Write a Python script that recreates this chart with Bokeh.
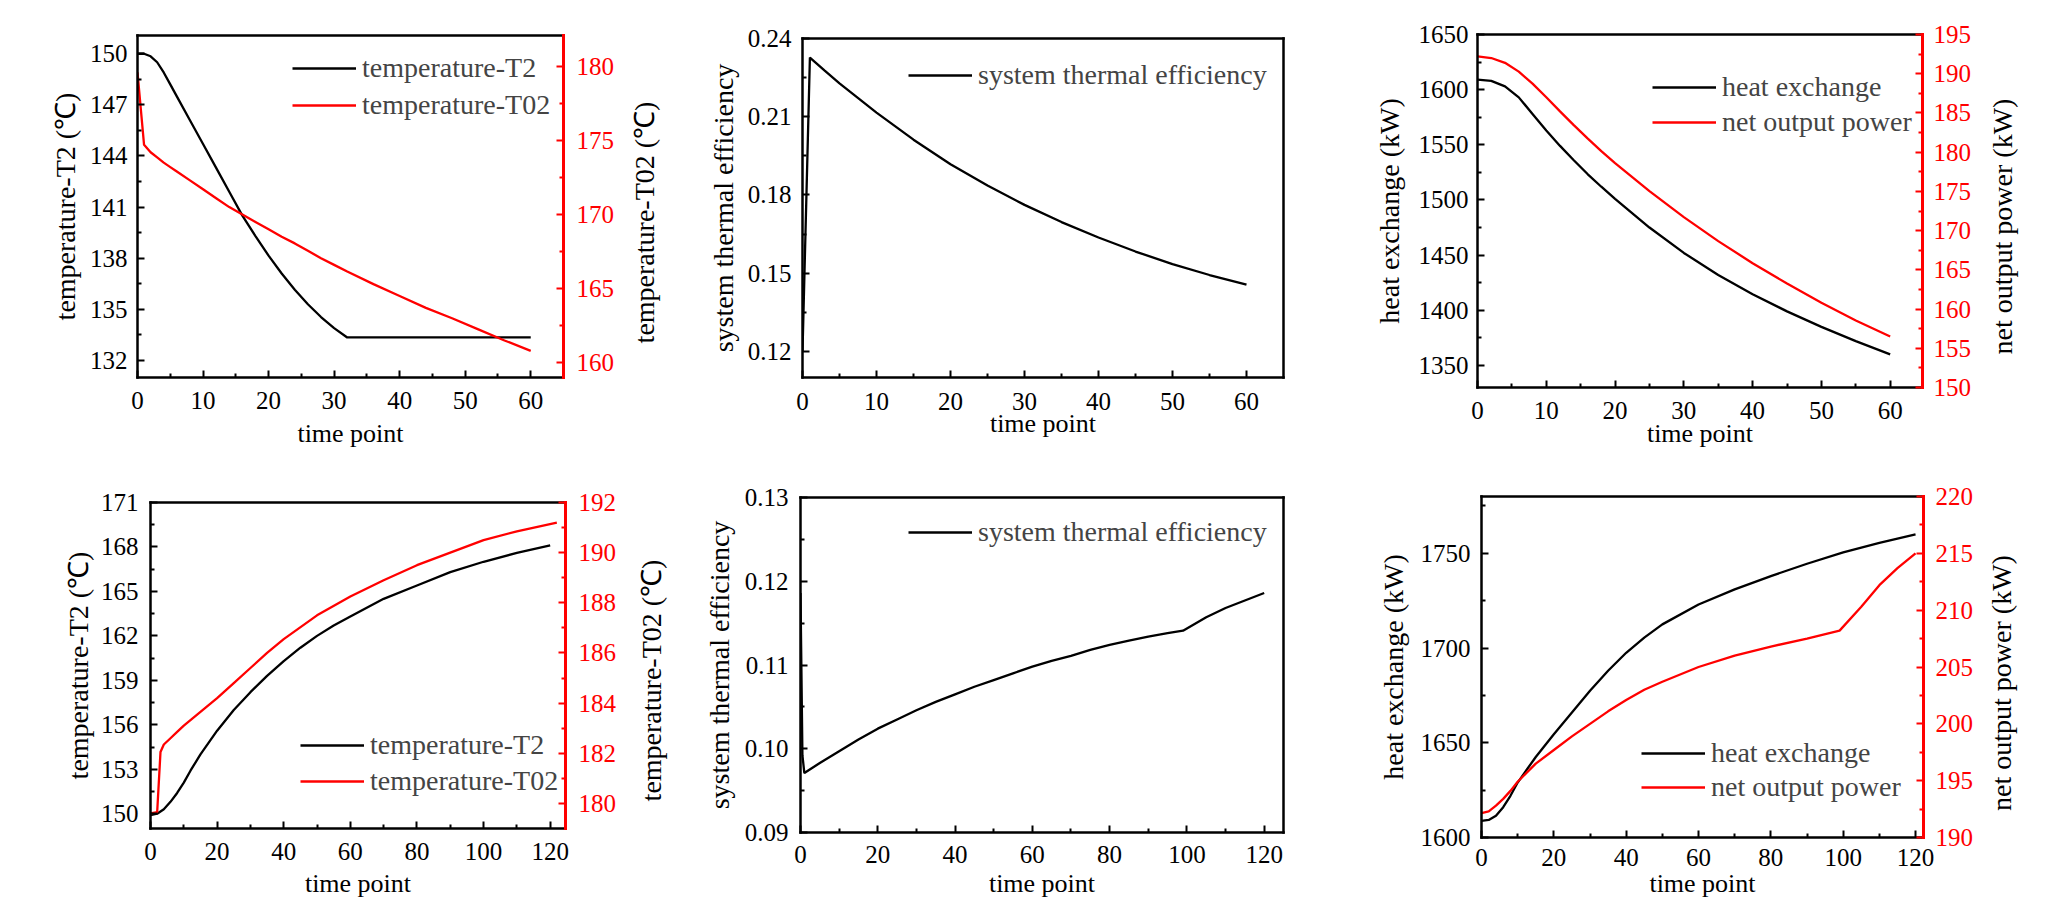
import math
from bokeh.plotting import figure
from bokeh.models import Range1d, LinearAxis, FixedTicker, Legend, LegendItem, PrintfTickFormatter, Plot
from bokeh.layouts import row, column
from bokeh.core.properties import value
from bokeh.embed import file_html
from bokeh.resources import INLINE

# ---------------- data ----------------
p1_t = [0, 1, 2, 3, 4, 5, 6, 8, 10, 12, 14, 16, 18, 20, 22, 24, 26, 28, 30, 32, 36, 40, 44, 48, 52, 56, 60]
p1_T2 = [150.0, 150.0, 149.85, 149.5, 148.9, 148.2, 147.5, 146.1, 144.7, 143.3, 141.9, 140.5, 139.3, 138.15,
         137.1, 136.15, 135.3, 134.55, 133.9, 133.35, 133.35, 133.35, 133.35, 133.35, 133.35, 133.35, 133.35]
p1_T02 = [179.6, 174.7, 174.2, 173.85, 173.5, 173.2, 172.9, 172.3, 171.7, 171.1, 170.5, 170.0, 169.5, 169.0,
          168.5, 168.05, 167.55, 167.05, 166.6, 166.15, 165.3, 164.5, 163.7, 163.0, 162.25, 161.5, 160.8]

p2_t = [0, 1, 3, 5, 10, 15, 20, 25, 30, 35, 40, 45, 50, 55, 60]
p2_eff = [0.120, 0.2327, 0.2277, 0.2228, 0.2116, 0.2012, 0.1918, 0.1836, 0.1762, 0.1696, 0.1637, 0.1583,
          0.1535, 0.1493, 0.1456]

p3_t = [0, 2, 4, 6, 8, 10, 12, 14, 16, 18, 20, 25, 30, 35, 40, 45, 50, 55, 60]
p3_heat = [1609, 1608, 1603, 1593, 1578, 1563, 1549, 1536, 1523.5, 1512, 1501, 1475, 1452, 1432, 1414.5, 1399,
           1385, 1372, 1360]
p3_power = [192.2, 192.0, 191.39, 190.27, 188.74, 187.0, 185.2, 183.45, 181.75, 180.14, 178.61, 175.04,
            171.72, 168.66, 165.85, 163.25, 160.8, 158.55, 156.5]

p4_T2_t = [0, 2, 4, 6, 8, 10, 12, 15, 20, 25, 30, 35, 40, 45, 50, 55, 60, 70, 80, 90, 100, 110, 120]
p4_T2 = [149.9, 150.0, 150.3, 150.8, 151.4, 152.1, 152.9, 154.0, 155.6, 157.0, 158.2, 159.3, 160.3, 161.2,
         162.0, 162.7, 163.3, 164.5, 165.4, 166.3, 167.0, 167.6, 168.1]
p4_T02_t = [0, 2, 3, 4, 6, 8, 10, 15, 20, 25, 30, 35, 40, 50, 60, 70, 80, 90, 100, 110, 122]
p4_T02 = [179.6, 179.65, 182.05, 182.35, 182.6, 182.85, 183.1, 183.65, 184.2, 184.8, 185.4, 186.0, 186.55,
          187.5, 188.25, 188.9, 189.5, 190.0, 190.5, 190.85, 191.2]

p5_t = [0, 0.5, 1, 5, 10, 15, 20, 25, 30, 35, 40, 45, 50, 55, 60, 65, 70, 75, 80, 85, 90, 95, 99, 105, 110,
        115, 120]
p5_eff = [0.1186, 0.0992, 0.0971, 0.0983, 0.0997, 0.1011, 0.1024, 0.1035, 0.1046, 0.1056, 0.1065, 0.1074,
          0.1082, 0.1090, 0.1098, 0.1105, 0.1111, 0.1118, 0.1124, 0.1129, 0.1134, 0.1138, 0.1141, 0.1157,
          0.1168, 0.1177, 0.1186]

p6_heat_t = [0, 2, 4, 6, 8, 10, 15, 20, 25, 30, 35, 40, 45, 50, 60, 70, 80, 90, 100, 110, 120]
p6_heat = [1608.8, 1609.3, 1611.5, 1616, 1622, 1629, 1642.5, 1654.5, 1666, 1677.5, 1688, 1697.5, 1705.5,
           1712.5, 1723, 1731, 1738, 1744.5, 1750.5, 1755.5, 1760]
p6_power_t = [0, 2, 4, 6, 8, 10, 15, 20, 25, 30, 35, 40, 45, 50, 60, 70, 80, 90, 99, 105, 110, 115, 120]
p6_power = [192.15, 192.3, 192.8, 193.4, 194.1, 194.9, 196.5, 197.7, 198.9, 200.0, 201.1, 202.1, 203.0,
            203.7, 205.0, 206.0, 206.8, 207.5, 208.2, 210.3, 212.2, 213.7, 215.0]

x60_ticks = [0, 10, 20, 30, 40, 50, 60]
x60_minor = [5, 15, 25, 35, 45, 55]
x120_ticks = [0, 20, 40, 60, 80, 100, 120]
x120_minor = [10, 30, 50, 70, 90, 110]

# ---------------- styling ----------------
FONT = "Liberation Serif"
RED = "#ff0000"
TICK_FS = "25px"
XLABEL_FS = "26px"
YLABEL_FS = "28px"
LEGEND_FS = "28px"
HAS_FRAME_ALIGN = "frame_align" in Plot.properties()


def no_align(p):
    if HAS_FRAME_ALIGN:
        p.frame_align = False


def style_axis(ax, color="black", standoff=10, label_standoff=5, label_fs=XLABEL_FS):
    ax.axis_line_color = color
    ax.axis_line_width = 2.5
    ax.axis_line_cap = "square"
    ax.major_tick_line_color = color
    ax.minor_tick_line_color = color
    ax.major_tick_line_width = 2
    ax.minor_tick_line_width = 2
    ax.major_tick_in = 7
    ax.major_tick_out = 0
    ax.minor_tick_in = 4
    ax.minor_tick_out = 0
    ax.major_label_text_color = color
    ax.major_label_text_font = FONT
    ax.major_label_text_font_size = TICK_FS
    ax.major_label_standoff = standoff
    ax.axis_label_text_font = FONT
    ax.axis_label_text_font_size = label_fs
    ax.axis_label_text_font_style = "normal"
    ax.axis_label_text_color = "black"
    ax.axis_label_standoff = label_standoff


def make_panel(width, height, borders, xr, yr, xt, xm, yt, ym, ylabel, xs, ys, yfmt=None,
               right=None):
    L, R, T, B = borders
    p = figure(width=width, height=height, output_backend="svg", toolbar_location=None,
               x_range=Range1d(*xr), y_range=Range1d(*yr),
               x_axis_location=None, y_axis_location=None,
               min_border_left=L, min_border_right=R, min_border_top=T, min_border_bottom=B)
    no_align(p)
    p.outline_line_color = None
    p.background_fill_color = "white"
    p.border_fill_color = "white"
    p.grid.visible = False

    bottom = LinearAxis(ticker=FixedTicker(ticks=xt, minor_ticks=xm), axis_label="time point")
    style_axis(bottom, standoff=xs[0], label_standoff=xs[1])
    p.add_layout(bottom, "below")

    left = LinearAxis(ticker=FixedTicker(ticks=yt, minor_ticks=ym), axis_label=ylabel)
    style_axis(left, standoff=ys[0], label_standoff=ys[1], label_fs=YLABEL_FS)
    if yfmt:
        left.formatter = PrintfTickFormatter(format=yfmt)
    p.add_layout(left, "left")

    top = LinearAxis(ticker=FixedTicker(ticks=[]))
    style_axis(top, standoff=0, label_standoff=0)
    p.add_layout(top, "above")

    if right is None:
        rax = LinearAxis(ticker=FixedTicker(ticks=[]))
        style_axis(rax, standoff=0, label_standoff=0)
        p.add_layout(rax, "right")
    else:
        p.extra_y_ranges = {"r": Range1d(*right["range"])}
        rax = LinearAxis(y_range_name="r", ticker=FixedTicker(ticks=right["ticks"], minor_ticks=right["minor"]))
        style_axis(rax, color=RED, standoff=right["s"])
        rax.axis_line_width = 3
        p.add_layout(rax, "right")
    return p


def label_strip(width, height, label, left, top, bottom):
    """Narrow figure that only carries a (bottom-to-top) axis title for a twin axis."""
    s = figure(width=width, height=height, output_backend="svg", toolbar_location=None,
               x_range=Range1d(0, 1), y_range=Range1d(0, 1),
               x_axis_location=None, y_axis_location=None,
               min_border_left=left, min_border_right=0, min_border_top=top, min_border_bottom=bottom)
    no_align(s)
    s.outline_line_color = None
    s.grid.visible = False
    s.background_fill_color = "white"
    s.border_fill_color = "white"
    ax = LinearAxis(ticker=FixedTicker(ticks=[]), axis_label=label)
    ax.axis_line_color = None
    ax.major_tick_in = 0
    ax.major_tick_out = 0
    ax.minor_tick_in = 0
    ax.minor_tick_out = 0
    ax.major_label_standoff = 0
    ax.axis_label_standoff = 0
    ax.axis_label_text_font = FONT
    ax.axis_label_text_font_size = YLABEL_FS
    ax.axis_label_text_font_style = "normal"
    ax.axis_label_text_color = "black"
    s.add_layout(ax, "left")
    return s


def add_legend(p, items, loc, spacing=4):
    lg = Legend(items=[LegendItem(label=value(lbl), renderers=[r]) for lbl, r in items],
                location=loc, label_text_font=FONT, label_text_font_size=LEGEND_FS,
                glyph_width=64, glyph_height=20, label_standoff=6, spacing=spacing,
                padding=0, margin=0, border_line_color=None, background_fill_alpha=0,
                label_height=29)
    p.add_layout(lg)


LW = 2.3

# ---- Panel 1 ----
p1 = make_panel(625, 450, (137, 62, 35, 72), (0, 65), (131.0, 151.07), x60_ticks, x60_minor,
                [132, 135, 138, 141, 144, 147, 150], [133.5, 136.5, 139.5, 142.5, 145.5, 148.5],
                "temperature-T2 (℃)", (14, 7), (10, 6),
                right=dict(range=(159.0, 182.08), ticks=[160, 165, 170, 175, 180],
                           minor=[162.5, 167.5, 172.5, 177.5], s=13))
r1a = p1.line(p1_t, p1_T2, line_color="black", line_width=LW)
r1b = p1.line(p1_t, p1_T02, line_color=RED, line_width=LW, y_range_name="r")
add_legend(p1, [("temperature-T2", r1a), ("temperature-T02", r1b)], (155, 256), spacing=5)
p1r = label_strip(75, 450, "temperature-T02 (℃)", 33, 100, 106)

# ---- Panel 2 ----
p2 = make_panel(660, 450, (102, 77, 38, 73), (0, 65), (0.11, 0.24), x60_ticks, x60_minor,
                [0.12, 0.15, 0.18, 0.21, 0.24], [0.135, 0.165, 0.195, 0.225],
                "system thermal efficiency", (15, -4), (11, 6), yfmt="%.2f")
r2 = p2.line(p2_t, p2_eff, line_color="black", line_width=LW)
add_legend(p2, [("system thermal efficiency", r2)], (106, 286))

# ---- Panel 3 ----
p3 = make_panel(620, 450, (117, 58, 34, 62), (0, 64.7), (1330, 1650), x60_ticks, x60_minor,
                [1350, 1400, 1450, 1500, 1550, 1600, 1650], [1375, 1425, 1475, 1525, 1575, 1625],
                "heat exchange (kW)", (14, -3), (9, 11),
                right=dict(range=(150, 195), ticks=[150, 155, 160, 165, 170, 175, 180, 185, 190, 195],
                           minor=[152.5, 157.5, 162.5, 167.5, 172.5, 177.5, 182.5, 187.5, 192.5], s=11))
r3a = p3.line(p3_t, p3_heat, line_color="black", line_width=LW)
r3b = p3.line(p3_t, p3_power, line_color=RED, line_width=LW, y_range_name="r")
add_legend(p3, [("heat exchange", r3a), ("net output power", r3b)], (175, 249), spacing=3)
p3r = label_strip(70, 450, "net output power (kW)", 37, 100, 98)

# ---- Panel 4 ----
p4 = make_panel(625, 450, (150, 60, 52, 72), (0, 124.6), (149, 171), x120_ticks, x120_minor,
                [150, 153, 156, 159, 162, 165, 168, 171], [151.5, 154.5, 157.5, 160.5, 163.5, 166.5, 169.5],
                "temperature-T2 (℃)", (14, 6), (12, 4),
                right=dict(range=(179, 192), ticks=[180, 182, 184, 186, 188, 190, 192],
                           minor=[181, 183, 185, 187, 189, 191], s=13))
r4a = p4.line(p4_T2_t, p4_T2, line_color="black", line_width=LW)
r4b = p4.line(p4_T02_t, p4_T02, line_color=RED, line_width=LW, y_range_name="r")
add_legend(p4, [("temperature-T2", r4a), ("temperature-T02", r4b)], (150, 31), spacing=4)
p4r = label_strip(75, 450, "temperature-T02 (℃)", 41, 100, 90)

# ---- Panel 5 ----
p5 = make_panel(660, 450, (100, 77, 47, 63), (0, 125), (0.09, 0.13), x120_ticks, x120_minor,
                [0.09, 0.10, 0.11, 0.12, 0.13], [0.095, 0.105, 0.115, 0.125],
                "system thermal efficiency", (13, 3), (12, 7), yfmt="%.2f")
r5 = p5.line(p5_t, p5_eff, line_color="black", line_width=LW)
add_legend(p5, [("system thermal efficiency", r5)], (108, 284))

# ---- Panel 6 ----
p6 = make_panel(620, 450, (121, 57, 46, 59), (0, 122.2), (1600, 1780), x120_ticks, x120_minor,
                [1600, 1650, 1700, 1750], [1625, 1675, 1725, 1775],
                "heat exchange (kW)", (11, 0), (11, 9),
                right=dict(range=(190, 220), ticks=[190, 195, 200, 205, 210, 215, 220],
                           minor=[192.5, 197.5, 202.5, 207.5, 212.5, 217.5], s=12))
r6a = p6.line(p6_heat_t, p6_heat, line_color="black", line_width=LW)
r6b = p6.line(p6_power_t, p6_power, line_color=RED, line_width=LW, y_range_name="r")
add_legend(p6, [("heat exchange", r6a), ("net output power", r6b)], (160, 34), spacing=2)
p6r = label_strip(70, 450, "net output power (kW)", 36, 100, 85)

layout = column(row(p1, p1r, p2, p3, p3r, spacing=0),
                row(p4, p4r, p5, p6, p6r, spacing=0), spacing=0)
open("out.html", "w").write(file_html(layout, INLINE))
